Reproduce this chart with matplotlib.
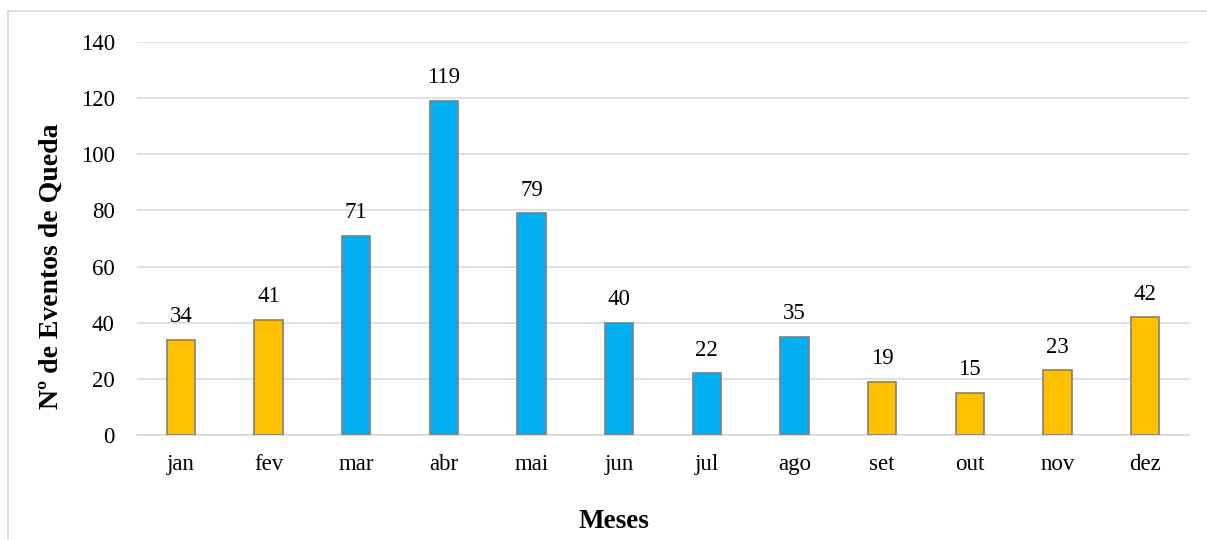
import matplotlib
matplotlib.use("Agg")
import matplotlib.pyplot as plt
from matplotlib.lines import Line2D

months = ["jan", "fev", "mar", "abr", "mai", "jun", "jul", "ago", "set", "out", "nov", "dez"]
eventos = [34, 41, 71, 119, 79, 40, 22, 35, 19, 15, 23, 42]
chuvoso = [False, False, True, True, True, True, True, True, False, False, False, False]
y_ticks = [0, 20, 40, 60, 80, 100, 120, 140]

ORANGE = "#FFC000"
BLUE = "#00B0F0"
EDGE = "#7F7F7F"
GRID = "#D9D9D9"

plt.rcParams["font.family"] = ["Liberation Serif", "DejaVu Serif"]

fig = plt.figure(figsize=(12.07, 5.40), dpi=100)
ax = fig.add_axes([137 / 1207, 1 - 435 / 540, (1189 - 137) / 1207, (435 - 42) / 540])

x = list(range(len(months)))
colors = [BLUE if c else ORANGE for c in chuvoso]
ax.bar(x, eventos, width=0.32, color=colors, edgecolor=EDGE, linewidth=1.2, zorder=3)

for xi, v in zip(x, eventos):
    ax.annotate(str(v), (xi, v), xytext=(0, 9), textcoords="offset points",
                ha="center", va="bottom", fontsize=16.5, color="#000000")

ax.set_xlim(-0.5, len(months) - 0.5)
ax.set_ylim(0, 140)
ax.set_yticks(y_ticks)
ax.set_xticks(x)
ax.set_xticklabels(months)
ax.tick_params(axis="both", length=0, labelsize=16.5, colors="#000000")
ax.tick_params(axis="x", pad=14)
ax.tick_params(axis="y", pad=16)
ax.grid(axis="y", color=GRID, linewidth=1.2, zorder=0)
ax.set_axisbelow(True)
for side in ["top", "right", "left"]:
    ax.spines[side].set_visible(False)
ax.spines["bottom"].set_color(GRID)
ax.spines["bottom"].set_linewidth(1.2)

fig.text(51 / 1207, 1 - 266 / 540, "Nº de Eventos de Queda", rotation=90,
         ha="center", va="center", fontsize=20, fontweight="bold")
fig.text(614 / 1207, 1 - 521 / 540, "Meses", ha="center", va="center",
         fontsize=19.5, fontweight="bold")

# outer chart frame
fig.add_artist(Line2D([8 / 1207, 1.0], [1 - 11 / 540, 1 - 11 / 540],
                      transform=fig.transFigure, color=GRID, linewidth=1.2))
fig.add_artist(Line2D([8 / 1207, 8 / 1207], [0.0, 1 - 11 / 540],
                      transform=fig.transFigure, color=GRID, linewidth=1.2))

fig.savefig("out.png", dpi=100)
